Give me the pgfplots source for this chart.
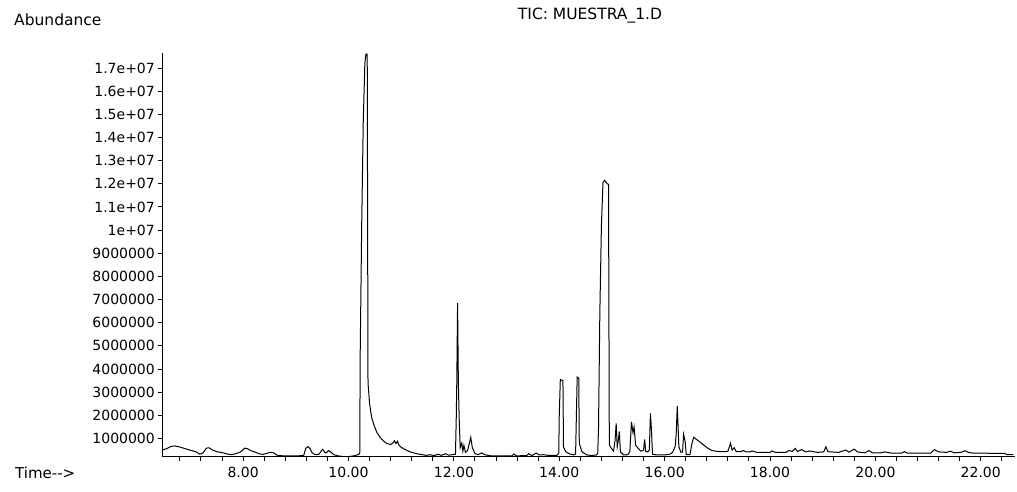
\documentclass[border=0pt]{standalone}
\usepackage{fontspec}
\setmainfont{DejaVu Sans}
\usepackage{pgfplots}
\usepackage{pgfplotstable}
\pgfplotsset{compat=1.18}

% Total ion chromatogram: retention time (min) vs. abundance
\pgfplotstableread{
t abundance
6.46 500000
6.55 560000
6.62 650000
6.70 680000
6.80 630000
6.90 560000
7.00 490000
7.10 430000
7.18 320000
7.24 380000
7.30 580000
7.35 600000
7.42 500000
7.50 430000
7.60 390000
7.70 330000
7.78 300000
7.86 340000
7.95 420000
8.03 580000
8.08 560000
8.15 470000
8.22 420000
8.30 340000
8.38 310000
8.45 360000
8.51 400000
8.58 380000
8.64 280000
8.75 250000
8.90 250000
9.05 250000
9.15 270000
9.19 580000
9.23 650000
9.27 560000
9.31 380000
9.37 300000
9.44 320000
9.48 450000
9.51 530000
9.55 400000
9.58 380000
9.62 480000
9.66 420000
9.72 300000
9.80 250000
9.90 220000
10.00 220000
10.08 240000
10.15 280000
10.20 320000
10.215 400000
10.22 4300000
10.25 10200000
10.28 14700000
10.31 17200000
10.33 17600000
10.355 17600000
10.37 3400000
10.40 2500000
10.44 1900000
10.48 1600000
10.54 1250000
10.60 1050000
10.66 900000
10.73 780000
10.80 740000
10.84 800000
10.87 900000
10.90 780000
10.93 880000
10.96 700000
11.00 620000
11.06 540000
11.12 470000
11.20 400000
11.30 340000
11.40 300000
11.48 270000
11.55 300000
11.62 260000
11.70 320000
11.76 270000
11.84 340000
11.90 280000
11.97 300000
12.03 320000
12.045 1900000
12.055 3400000
12.07 6850000
12.085 3400000
12.10 1900000
12.12 600000
12.15 800000
12.17 450000
12.19 700000
12.22 400000
12.26 480000
12.30 850000
12.32 1050000
12.35 600000
12.40 350000
12.46 300000
12.53 380000
12.58 300000
12.70 250000
12.90 250000
13.10 250000
13.14 330000
13.18 250000
13.38 260000
13.42 340000
13.48 260000
13.56 370000
13.62 290000
13.70 300000
13.80 270000
13.95 270000
13.99 350000
14.00 2000000
14.02 3550000
14.07 3500000
14.08 640000
14.12 430000
14.20 330000
14.27 290000
14.31 330000
14.325 2000000
14.34 3650000
14.37 3600000
14.38 790000
14.43 430000
14.52 290000
14.60 270000
14.70 280000
14.73 350000
14.745 1430000
14.77 6400000
14.80 10200000
14.83 12050000
14.86 12150000
14.91 12000000
14.935 11980000
14.95 720000
14.99 570000
15.03 450000
15.06 930000
15.08 1650000
15.10 640000
15.12 900000
15.14 1300000
15.16 430000
15.22 290000
15.30 300000
15.34 430000
15.37 1720000
15.40 1250000
15.42 1500000
15.45 700000
15.50 570000
15.55 450000
15.60 500000
15.62 960000
15.64 450000
15.68 420000
15.71 500000
15.73 2080000
15.75 1360000
15.77 320000
15.85 290000
16.00 290000
16.10 320000
16.15 400000
16.20 650000
16.22 1220000
16.24 2400000
16.27 640000
16.31 400000
16.34 420000
16.36 1180000
16.39 860000
16.41 300000
16.48 300000
16.52 800000
16.55 1050000
16.62 930000
16.68 830000
16.75 700000
16.82 580000
16.90 480000
17.00 440000
17.10 430000
17.20 440000
17.25 790000
17.28 500000
17.32 600000
17.36 430000
17.45 430000
17.49 480000
17.55 420000
17.62 420000
17.66 460000
17.75 400000
18.00 400000
18.04 460000
18.10 400000
18.30 400000
18.36 480000
18.42 440000
18.48 570000
18.52 440000
18.60 520000
18.68 420000
18.75 460000
18.90 400000
19.02 420000
19.06 640000
19.10 430000
19.30 400000
19.44 500000
19.50 410000
19.60 540000
19.66 420000
19.80 380000
19.88 480000
19.94 380000
20.10 380000
20.18 420000
20.30 370000
20.50 370000
20.55 430000
20.60 370000
21.05 370000
21.12 520000
21.20 420000
21.35 400000
21.42 450000
21.50 380000
21.62 400000
21.70 470000
21.76 400000
21.85 370000
22.20 360000
22.45 360000
22.50 300000
22.62 300000
}\ticdata

\begin{document}
\begin{tikzpicture}
\path[use as bounding box] (0,0) rectangle (1017bp,492bp);
\begin{axis}[
  at={(162bp,35bp)}, anchor=south west,
  scale only axis, width=853bp, height=404bp,
  xmin=6.46, xmax=22.65,
  ymin=200000, ymax=17650000,
  axis lines*=left,
  axis line style={black, line width=1bp},
  tick align=outside,
  major tick length=4bp, minor tick length=4bp,
  tick style={black, line width=1bp},
  xtick={8,10,12,14,16,18,20,22},
  xticklabels={8.00,10.00,12.00,14.00,16.00,18.00,20.00,22.00},
  minor xtick={6.8,7.2,7.6,8.4,8.8,9.2,9.6,10.4,10.8,11.2,11.6,12.4,12.8,13.2,13.6,14.4,14.8,15.2,15.6,16.4,16.8,17.2,17.6,18.4,18.8,19.2,19.6,20.4,20.8,21.2,21.6,22.4},
  ytick={1000000,2000000,3000000,4000000,5000000,6000000,7000000,8000000,9000000,10000000,11000000,12000000,13000000,14000000,15000000,16000000,17000000},
  yticklabels={1000000,2000000,3000000,4000000,5000000,6000000,7000000,8000000,9000000,1e+07,1.1e+07,1.2e+07,1.3e+07,1.4e+07,1.5e+07,1.6e+07,1.7e+07},
  ticklabel style={font=\fontsize{14bp}{16bp}\selectfont, text=black},
  yticklabel style={inner sep=0pt, xshift=-3bp},
  xticklabel style={inner sep=0pt, yshift=-6bp},
  scaled y ticks=false,
]
\addplot[black, line width=1bp, no markers] table[x=t, y=abundance] {\ticdata};
\end{axis}
\node[anchor=west, font=\fontsize{15.5bp}{18bp}\selectfont, inner sep=0pt] at (14bp,472.5bp) {Abundance};
\node[font=\fontsize{15.5bp}{18bp}\selectfont, inner sep=0pt] at (590bp,476bp) {TIC: MUESTRA\_1.D};
\node[anchor=west, font=\fontsize{15bp}{18bp}\selectfont, inner sep=0pt] at (15bp,19bp) {Time-{}->};
\end{tikzpicture}
\end{document}
